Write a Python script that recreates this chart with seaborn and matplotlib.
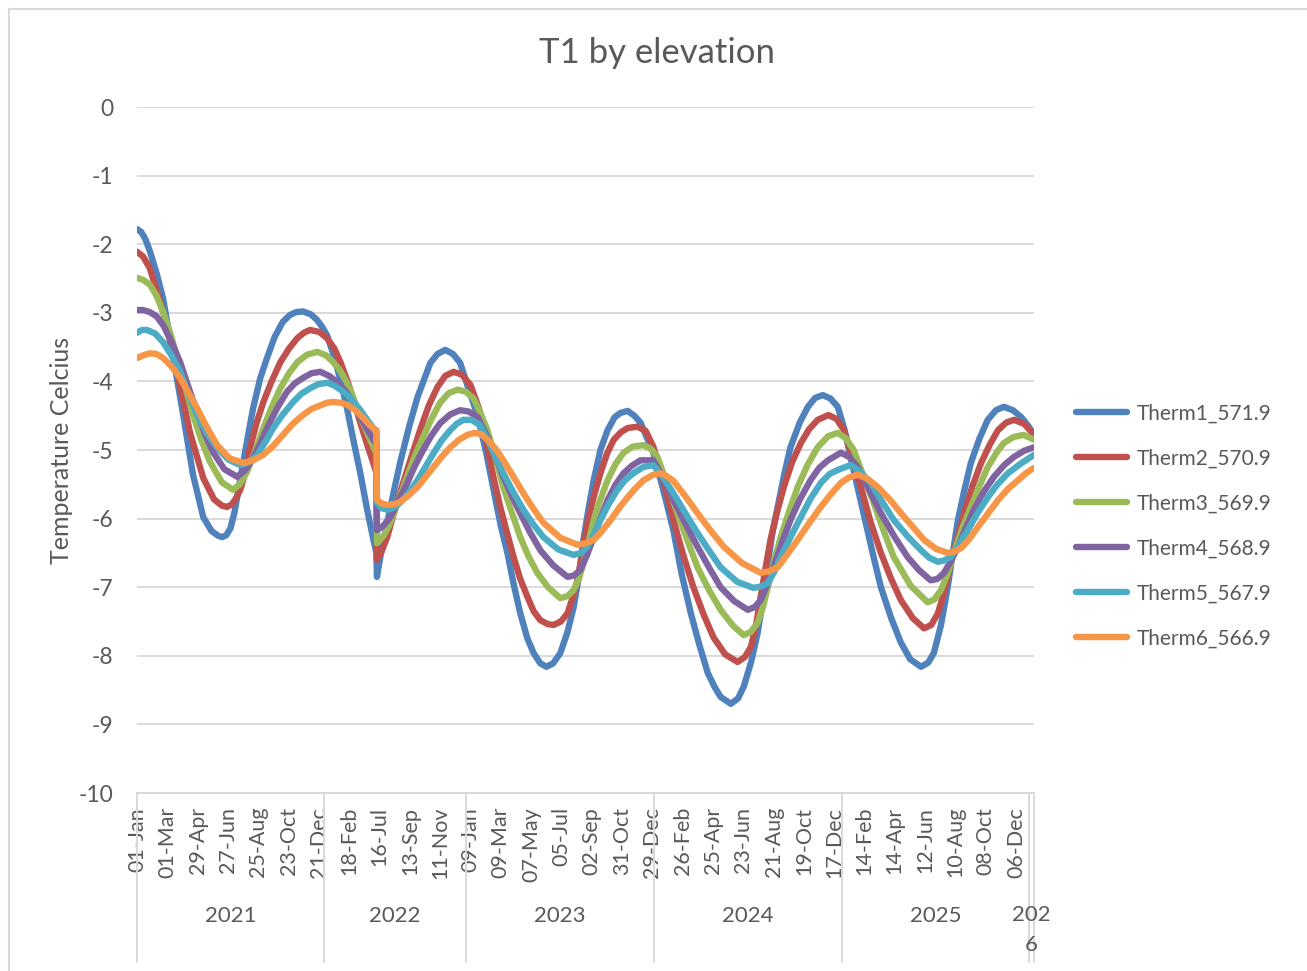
import numpy as np
import pandas as pd
import matplotlib
matplotlib.use("Agg")
import matplotlib.pyplot as plt
import seaborn as sns
from matplotlib.lines import Line2D

# ---------------- data ----------------
# logged days (record has a gap between 13-Apr-2022 and 10-Jul-2022);
# the x axis is the position of each logged day in the record
record_dates = pd.DatetimeIndex(
    list(pd.date_range("2021-01-01", "2022-04-12"))
    + list(pd.date_range("2022-07-11", "2026-01-10"))
)
tick_step = 59

series_names = ["Therm1_571.9", "Therm2_570.9", "Therm3_569.9",
                "Therm4_568.9", "Therm5_567.9", "Therm6_566.9"]
series_colors = ["#4F81BD", "#C0504D", "#9BBB59", "#8064A2", "#4BACC6", "#F79646"]

therm1_pos = [0, 8, 16, 25, 38, 51, 70, 90, 109, 129, 145, 158, 166, 174, 182, 190, 207, 226, 240, 253, 268, 284,
              298, 310, 323,
              338, 350, 360, 370, 382, 396, 409, 421, 435, 448, 460, 466,
              467, 475, 487, 500, 512, 530, 546, 571, 585, 600, 615, 629, 645, 663, 680, 694, 708, 721, 733,
              746, 760, 772, 785, 797, 810, 824, 838, 850, 860, 869, 879, 889, 902, 916, 930, 941, 955, 968,
              980, 1005, 1025, 1044, 1060, 1078, 1095, 1111, 1124, 1136, 1156, 1170, 1181, 1195, 1208, 1218,
              1228, 1237, 1247, 1260, 1272, 1290, 1306, 1320, 1335, 1350, 1364, 1377, 1389, 1405, 1422, 1435,
              1448, 1468, 1487, 1505, 1526, 1540, 1551, 1565, 1578, 1588, 1598, 1610, 1623, 1640, 1656, 1672,
              1687, 1705, 1721, 1735, 1746]
therm1_val = [-1.78, -1.82, -1.92, -2.1, -2.42, -2.8, -3.62, -4.49, -5.36, -5.98, -6.18, -6.25, -6.27, -6.24,
              -6.14, -5.9, -5.17, -4.39,
              -3.95, -3.66, -3.35, -3.13, -3.03, -2.99, -2.98,
              -3.02, -3.1, -3.2, -3.33, -3.6, -3.98, -4.4, -4.85, -5.35, -5.87, -6.3, -6.5,
              -6.85, -6.5, -6.06, -5.6, -5.19, -4.65, -4.23, -3.73, -3.6, -3.54, -3.6, -3.73, -4.1, -4.5, -5.05,
              -5.58, -6.1, -6.5, -6.95,
              -7.38, -7.75, -7.96, -8.11, -8.16, -8.11, -7.96, -7.65, -7.29, -6.85, -6.31, -5.85, -5.44, -5.0,
              -4.71, -4.52, -4.46, -4.43, -4.5,
              -4.6, -5.04, -5.6, -6.17, -6.8, -7.38, -7.85, -8.25, -8.45, -8.6, -8.7, -8.62, -8.45, -8.1, -7.67,
              -7.2, -6.65, -6.2, -5.83, -5.35, -4.96, -4.6, -4.37, -4.24, -4.2, -4.25, -4.37, -4.7, -5.1, -5.62,
              -6.17, -6.6,
              -7.0, -7.45, -7.81, -8.05, -8.16, -8.1, -7.96, -7.55, -7.0, -6.5, -6.02, -5.6, -5.19, -4.83, -4.56,
              -4.42, -4.37, -4.42, -4.52, -4.65, -4.78]

therm2_pos = [0, 12, 25, 51, 78, 103, 129, 150, 165, 175, 185, 193, 201, 210, 220, 233, 246, 262, 279, 296, 312,
              325, 337,
              355, 370, 384, 396, 409, 422, 435, 448, 460, 466,
              467, 475, 487, 500, 518, 535, 551, 568, 585, 600, 616, 632, 649, 665, 682, 694, 707, 720, 733,
              746, 760, 772, 785, 800, 811, 825, 838, 848, 857, 867, 877, 889, 902, 915, 928, 942, 955, 974,
              990, 1005, 1025, 1044, 1064, 1083, 1103, 1122, 1145, 1169, 1183, 1195, 1205, 1214, 1224, 1233,
              1246, 1259, 1275, 1292, 1308, 1325, 1346, 1362, 1376, 1392, 1409, 1428, 1448, 1468, 1487, 1510,
              1532, 1546, 1559, 1572, 1584, 1597, 1610, 1626, 1643, 1660, 1676, 1692, 1707, 1727, 1746]
therm2_val = [-2.11, -2.18, -2.35, -2.99, -3.86, -4.74, -5.41, -5.72, -5.81, -5.83, -5.79, -5.7, -5.58, -5.35,
              -4.97, -4.6,
              -4.3, -4.0, -3.72, -3.52, -3.37, -3.29, -3.25,
              -3.28, -3.37, -3.52, -3.72, -3.98, -4.28, -4.61, -4.92, -5.19, -5.33,
              -6.6, -6.5, -6.27, -5.92, -5.48, -5.08, -4.71, -4.35, -4.08, -3.92, -3.86, -3.9, -4.05, -4.38,
              -4.96, -5.4, -5.83, -6.2, -6.56,
              -6.88, -7.14, -7.35, -7.48, -7.54, -7.55, -7.5, -7.38, -7.15, -6.9, -6.5, -6.06, -5.68, -5.34,
              -5.05, -4.85, -4.74, -4.68, -4.66,
              -4.72, -4.95, -5.45, -6.02, -6.55, -7.0, -7.4, -7.73, -7.98, -8.09, -8.02, -7.87, -7.55, -7.14,
              -6.7, -6.31,
              -5.9, -5.54, -5.18, -4.9, -4.7, -4.56, -4.49, -4.55, -4.71, -5.1, -5.54, -6.05, -6.5, -6.88,
              -7.19, -7.45,
              -7.6, -7.55, -7.38, -7.05, -6.65, -6.28, -5.92, -5.53, -5.19, -4.92, -4.71, -4.6, -4.56, -4.62,
              -4.78]

therm3_pos = [0, 12, 25, 38, 51, 65, 78, 94, 109, 126, 142, 165, 187, 200, 214, 230, 246, 262, 279, 296, 312,
              331, 351, 368, 382, 396, 409, 422, 435, 448, 460, 466,
              467, 480, 493, 510, 526, 541, 557, 573, 590, 607, 624, 640, 655, 668, 682, 698, 713, 730, 746,
              762, 779, 800, 824, 838, 850, 860, 869, 879, 889, 902, 916, 931, 947, 965, 986, 1000, 1013,
              1032, 1052, 1072, 1091, 1114, 1136, 1160, 1181, 1195, 1208, 1218, 1228, 1240, 1253, 1270, 1286,
              1305, 1325, 1345, 1364, 1380, 1395, 1414, 1434, 1453, 1473, 1506, 1539, 1552, 1565, 1578, 1590,
              1606, 1623, 1640, 1656, 1672, 1687, 1706, 1726, 1746]
therm3_val = [-2.49, -2.52, -2.59, -2.75, -2.99, -3.3, -3.66, -4.08, -4.49, -4.87, -5.17, -5.47, -5.58, -5.5,
              -5.32, -5.02, -4.68, -4.38, -4.1, -3.88, -3.72,
              -3.61, -3.57, -3.62, -3.72, -3.85, -4.02, -4.26, -4.52, -4.75, -4.95, -5.05,
              -6.36, -6.25, -6.06, -5.72, -5.39, -5.08, -4.81, -4.55, -4.31, -4.17, -4.12, -4.15, -4.25, -4.45,
              -4.71, -5.12, -5.54, -5.92, -6.27,
              -6.55, -6.79, -7.0, -7.16, -7.13, -7.04, -6.88, -6.65, -6.35, -6.02, -5.72, -5.44, -5.21, -5.04,
              -4.95, -4.93, -4.98, -5.1,
              -5.5, -5.92, -6.33, -6.71, -7.05, -7.33, -7.56, -7.7, -7.65, -7.52, -7.3, -7.0, -6.62, -6.27,
              -5.88, -5.54,
              -5.22, -4.96, -4.8, -4.75, -4.83, -5.0, -5.38, -5.77, -6.17, -6.56, -6.98, -7.22, -7.18, -7.04,
              -6.8, -6.5,
              -6.15, -5.83, -5.52, -5.25, -5.05, -4.9, -4.81, -4.78, -4.85]

therm4_pos = [0, 12, 25, 38, 51, 67, 84, 100, 117, 132, 148, 170, 195, 210, 226, 242, 259, 275, 292, 307, 323,
              340, 357, 374, 390, 409, 422, 435, 448, 460, 466,
              467, 480, 493, 510, 526, 541, 557, 573, 590, 610, 629, 646, 663, 682, 698, 713, 730, 746, 765,
              785, 810, 838, 850, 863, 876, 889, 902, 916, 931, 947, 963, 980, 1005, 1024, 1044, 1068, 1091,
              1114, 1136, 1162, 1189, 1202, 1214, 1226, 1239, 1255, 1272, 1291, 1311, 1328, 1345, 1370, 1386,
              1403, 1425, 1448, 1474, 1500, 1522, 1545, 1558, 1571, 1584, 1598, 1613, 1629, 1648, 1668, 1688,
              1707, 1727, 1746]
therm4_val = [-2.96, -2.96, -2.99, -3.05, -3.18, -3.42, -3.72, -4.08, -4.45, -4.76, -5.03, -5.28, -5.39, -5.3,
              -5.12, -4.87, -4.59, -4.36, -4.15, -4.03, -3.95,
              -3.88, -3.86, -3.92, -4.01, -4.17, -4.34, -4.52, -4.7, -4.85, -4.92,
              -6.17, -6.1, -5.98, -5.73, -5.48, -5.23, -5.0, -4.79, -4.61, -4.48, -4.42, -4.44, -4.52, -4.81,
              -5.1, -5.39, -5.67, -5.92, -6.2,
              -6.46, -6.68, -6.85, -6.83, -6.75, -6.53, -6.27, -6.0, -5.73, -5.51, -5.34, -5.23, -5.15, -5.15,
              -5.4, -5.73, -6.08, -6.41,
              -6.72, -7.0, -7.2, -7.33, -7.29, -7.19, -6.97, -6.71, -6.36, -6.02, -5.71, -5.44, -5.26, -5.15,
              -5.04, -5.1,
              -5.25, -5.58, -5.92, -6.26, -6.56, -6.75, -6.9, -6.88, -6.79, -6.62, -6.41, -6.14, -5.87, -5.61,
              -5.39, -5.22,
              -5.1, -5.01, -4.96]

therm5_pos = [0, 10, 19, 35, 51, 67, 84, 100, 117, 137, 156, 178, 201, 218, 234, 250, 265, 284, 304, 320, 337,
              353, 370, 384, 396, 409, 422, 435, 448, 460, 466,
              467, 477, 487, 500, 512, 529, 546, 561, 577, 593, 610, 622, 635, 651, 668, 682, 698, 713, 732,
              752, 771, 791, 820, 850, 864, 877, 889, 902, 918, 935, 950, 966, 985, 1005, 1024, 1044, 1068,
              1091, 1114, 1136, 1168, 1200, 1214, 1228, 1240, 1253, 1272, 1292, 1311, 1331, 1348, 1364, 1389,
              1408, 1428, 1450, 1473, 1500, 1526, 1542, 1559, 1571, 1584, 1600, 1617, 1636, 1656, 1675, 1695,
              1720, 1746]
therm5_val = [-3.29, -3.25, -3.25, -3.3, -3.43, -3.62, -3.86, -4.17, -4.49, -4.77, -4.97, -5.14, -5.22, -5.18,
              -5.07, -4.88, -4.68, -4.48, -4.3, -4.18, -4.1,
              -4.04, -4.02, -4.06, -4.12, -4.2, -4.3, -4.42, -4.56, -4.68, -4.72,
              -5.77, -5.85, -5.87, -5.84, -5.77, -5.62, -5.44, -5.25, -5.05, -4.86, -4.71, -4.62, -4.56, -4.56,
              -4.64, -4.85, -5.1, -5.34, -5.61,
              -5.87, -6.08, -6.27, -6.45, -6.53, -6.5, -6.41, -6.23, -6.02, -5.79, -5.58, -5.44, -5.34, -5.25,
              -5.22, -5.4, -5.63, -5.93,
              -6.21, -6.47, -6.71, -6.92, -7.01, -6.99, -6.94, -6.78, -6.56, -6.27, -5.98, -5.71, -5.48, -5.35,
              -5.29, -5.22,
              -5.32, -5.48, -5.75, -6.02, -6.26, -6.46, -6.57, -6.63, -6.61, -6.56, -6.38, -6.17, -5.92, -5.69,
              -5.5, -5.34,
              -5.2, -5.07]

therm6_pos = [0, 12, 25, 38, 51, 67, 84, 100, 117, 136, 156, 180, 207, 226, 246, 265, 284, 303, 323, 340, 357,
              370, 382, 396, 409, 425, 440, 452, 464, 466,
              467, 477, 487, 500, 512, 529, 546, 561, 577, 593, 610, 627, 643, 657, 670, 682, 698, 713, 732,
              752, 771, 791, 824, 857, 873, 889, 905, 922, 938, 955, 970, 986, 1005, 1019, 1031, 1044, 1068,
              1091, 1116, 1142, 1178, 1214, 1230, 1247, 1266, 1286, 1308, 1331, 1350, 1370, 1386, 1403, 1422,
              1442, 1465, 1487, 1510, 1532, 1555, 1578, 1591, 1604, 1620, 1637, 1656, 1676, 1695, 1715, 1730,
              1746]
therm6_val = [-3.66, -3.62, -3.59, -3.6, -3.66, -3.78, -3.95, -4.16, -4.39, -4.67, -4.93, -5.12, -5.19, -5.15,
              -5.07, -4.94, -4.78, -4.62, -4.49, -4.4, -4.35,
              -4.31, -4.3, -4.31, -4.34, -4.42, -4.53, -4.63, -4.71, -4.71,
              -5.73, -5.78, -5.8, -5.79, -5.76, -5.66, -5.54, -5.4, -5.25, -5.1, -4.96, -4.85, -4.78, -4.75,
              -4.77, -4.85, -4.98, -5.15, -5.38,
              -5.63, -5.85, -6.06, -6.28, -6.38, -6.36, -6.31, -6.18, -6.02, -5.85, -5.69, -5.56, -5.44, -5.36,
              -5.34, -5.38, -5.45, -5.68,
              -5.92, -6.17, -6.41, -6.65, -6.79, -6.77, -6.71, -6.52, -6.31, -6.07, -5.83, -5.65, -5.48, -5.4,
              -5.36, -5.42,
              -5.54, -5.72, -5.92, -6.12, -6.31, -6.44, -6.5, -6.48, -6.43, -6.3, -6.12, -5.93, -5.73, -5.57,
              -5.44, -5.34,
              -5.26]

y_ticks = [0, -1, -2, -3, -4, -5, -6, -7, -8, -9, -10]
title_text = "T1 by elevation"
y_label_text = "Temperature Celcius"

# ---------------- table ----------------
all_pos = [therm1_pos, therm2_pos, therm3_pos, therm4_pos, therm5_pos, therm6_pos]
all_val = [therm1_val, therm2_val, therm3_val, therm4_val, therm5_val, therm6_val]
frames = []
for name, p, v in zip(series_names, all_pos, all_val):
    frames.append(pd.DataFrame({"pos": p, "temp": v, "series": name}))
df = pd.concat(frames, ignore_index=True)

# ---------------- style ----------------
sns.set_style("white")
plt.rcParams["font.family"] = ["Lato", "DejaVu Sans"]
plt.rcParams["axes.unicode_minus"] = False
text_c = "#595959"
grid_c = "#D9D9D9"
lw = 4.6

W, H = 1307, 971
fig = plt.figure(figsize=(W / 100, H / 100), dpi=100)
fig.patch.set_facecolor("white")
ax_l, ax_r, ax_t, ax_b = 137, 1034, 107, 793
ax = fig.add_axes([ax_l / W, 1 - ax_b / H, (ax_r - ax_l) / W, (ax_b - ax_t) / H])

sns.lineplot(data=df, x="pos", y="temp", hue="series", hue_order=series_names,
             palette=series_colors, linewidth=lw, estimator=None, sort=True, ax=ax)
for ln in ax.get_lines():
    ln.set_solid_capstyle("round")
    ln.set_solid_joinstyle("round")

n_pts = len(record_dates)
ax.set_xlim(0, n_pts - 1)
ax.set_ylim(-10, 0)
ax.set_yticks(y_ticks)
ax.set_yticklabels([str(t) for t in y_ticks])
ax.yaxis.grid(True, color=grid_c, linewidth=1.4)
ax.xaxis.grid(False)
ax.set_axisbelow(True)

tick_pos = list(range(0, n_pts, tick_step))
ax.set_xticks(tick_pos)
ax.set_xticklabels([record_dates[i].strftime("%d-%b") for i in tick_pos], rotation=90,
                   va="top", ha="center")
ax.tick_params(axis="x", length=0, pad=10, labelsize=15.5, labelcolor=text_c)
ax.tick_params(axis="y", length=0, pad=17, labelsize=16.5, labelcolor=text_c)

for s in ["top", "right", "left"]:
    ax.spines[s].set_visible(False)
ax.spines["bottom"].set_color(grid_c)
ax.spines["bottom"].set_linewidth(1.4)

ax.set_xlabel("")
ax.set_ylabel(y_label_text, fontsize=18, color=text_c)
ax.yaxis.set_label_coords((73 - ax_l) / (ax_r - ax_l), 0.5)

# year groups of the category axis
trans = ax.get_xaxis_transform()
years = record_dates.year
px_h = ax_b - ax_t
sep_bottom = -(962 - ax_b) / px_h
bounds = [0]
for yr in sorted(set(years)):
    idx = np.where(years == yr)[0]
    start = idx[0] - 0.5 if idx[0] > 0 else 0
    end = idx[-1] + 0.5 if idx[-1] < n_pts - 1 else n_pts - 1
    bounds.append(end)
    lab = str(yr)
    if idx[-1] - idx[0] < 40:
        lab = lab[:3] + "\n" + lab[3:]
        ax.text((start + end) / 2, -(905 - ax_b) / px_h, lab, transform=trans, ha="center",
                va="top", fontsize=16, color=text_c, linespacing=1.65)
    else:
        ax.text((start + end) / 2, -(916 - ax_b) / px_h, lab, transform=trans, ha="center",
                va="center", fontsize=16, color=text_c)
for b in bounds:
    ax.plot([b, b], [0, sep_bottom], transform=trans, color=grid_c, lw=1.4, clip_on=False)

# legend
handles, labels = ax.get_legend_handles_labels()
for h, c in zip(handles, series_colors):
    h.set_linewidth(lw)
    h.set_color(c)
    h.set_solid_capstyle("round")
leg = ax.legend(handles, labels, loc="center left", bbox_to_anchor=(1076 / W, 1 - 526 / H),
                bbox_transform=fig.transFigure, frameon=False, fontsize=15,
                handlelength=2.45, handletextpad=0.45, labelspacing=1.2, borderpad=0,
                borderaxespad=0)
for t in leg.get_texts():
    t.set_color(text_c)

fig.text(657 / W, 1 - 53 / H, title_text, ha="center", va="center", fontsize=25, color=text_c)

# chart-area frame (left and top edges visible)
fig.add_artist(Line2D([9 / W, 9 / W], [0, 1 - 9 / H], color=grid_c, lw=1.5))
fig.add_artist(Line2D([9 / W, 1], [1 - 9 / H, 1 - 9 / H], color=grid_c, lw=1.5))

fig.savefig("out.png", dpi=100)
